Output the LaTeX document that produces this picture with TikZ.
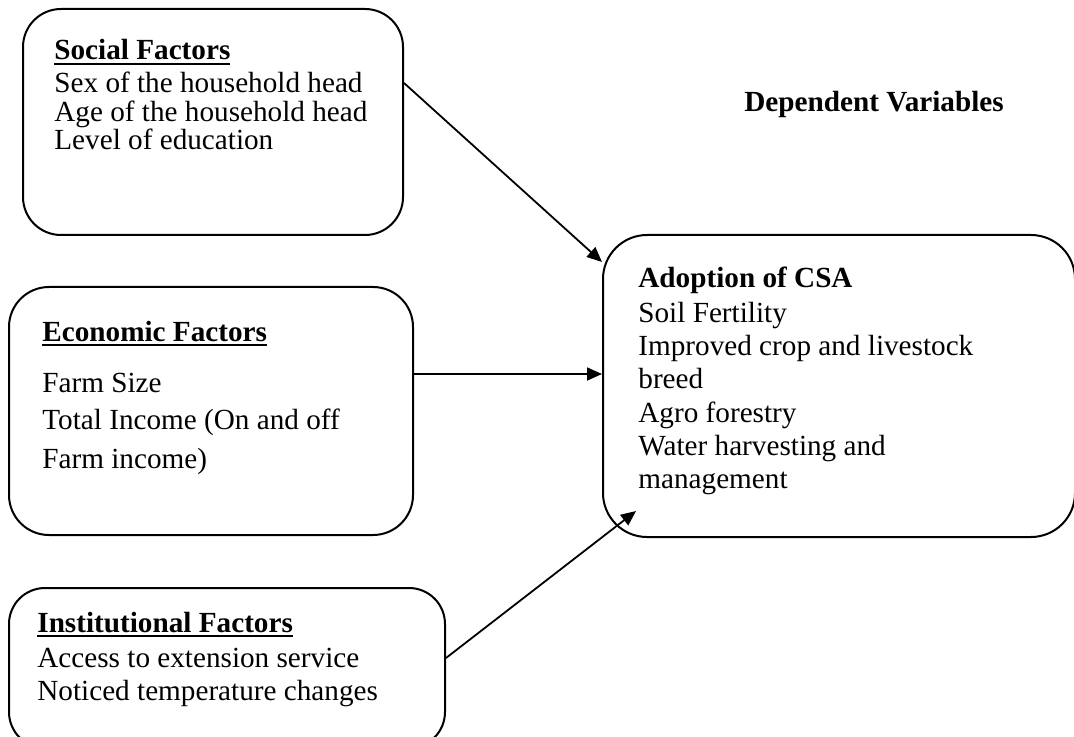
\documentclass[tikz,border=0pt]{standalone}
\usepackage{fontspec}
\setmainfont{Liberation Serif}
\usetikzlibrary{arrows.meta}
\newcommand\myul[1]{\setbox0\hbox{#1}\rlap{\raisebox{-2.6pt}{\rule{\wd0}{1pt}}}\box0}
\begin{document}
\begin{tikzpicture}[x=0.5pt,y=-0.5pt,
  box/.style={draw=black, line width=1pt, inner sep=0pt, rectangle},
  txt/.style={anchor=base west, inner sep=0pt, font=\fontsize{14.6pt}{17pt}\selectfont},
  ttl/.style={txt, font=\fontsize{14.6pt}{17pt}\selectfont\bfseries},
  conn/.style={draw=black, line width=0.9pt, -{Triangle[length=7.5pt,width=6.5pt]}}]
\useasboundingbox (0,0) rectangle (1074,737);
% boxes
\node[box, minimum width=190pt, minimum height=113pt, rounded corners=19pt] (soc) at (213,122) {};
\node[box, minimum width=202pt, minimum height=124pt, rounded corners=20pt] (eco) at (211,411) {};
\node[box, minimum width=218pt, minimum height=80pt, rounded corners=18pt] (ins) at (227,668) {};
\node[box, minimum width=236pt, minimum height=151pt, rounded corners=22pt] (ad) at (839,386) {};
% social text
\node[ttl] (s0) at (54,60) {\myul{Social Factors}};
\node[txt] (s1) at (54,93) {Sex of the household head};
\node[txt] (s2) at (54,122) {Age of the household head};
\node[txt] (s3) at (54,150) {Level of education};
% economic text
\node[ttl] (e0) at (42,341) {\myul{Economic Factors}};
\node[txt] (e1) at (42,392) {Farm Size};
\node[txt] (e2) at (42,429) {Total Income (On and off};
\node[txt] (e3) at (42,468) {Farm income)};
% institutional text
\node[ttl] (i0) at (37,632) {\myul{Institutional Factors}};
\node[txt] (i1) at (37,667) {Access to extension service};
\node[txt] (i2) at (37,700) {Noticed temperature changes};
% adoption text
\node[ttl] (a0) at (638,288) {Adoption of CSA};
\node[txt] (a1) at (638,322) {Soil Fertility};
\node[txt] (a2) at (638,355) {Improved crop and livestock};
\node[txt] (a3) at (638,388) {breed};
\node[txt] (a4) at (638,422) {Agro forestry};
\node[txt] (a5) at (638,455) {Water harvesting and};
\node[txt] (a6) at (638,488) {management};
% heading
\node[ttl] (dv) at (744,112) {Dependent Variables};
% connectors
\draw[conn] ([yshift=19.5pt]soc.east) -- ([yshift=62pt]ad.west);
\draw[conn] ([yshift=18.5pt]eco.east) -- ([yshift=6pt]ad.west);
\draw[conn] ([yshift=5pt]ins.east) -- ([shift={(17pt,13.5pt)}]ad.south west);
\end{tikzpicture}
\end{document}
